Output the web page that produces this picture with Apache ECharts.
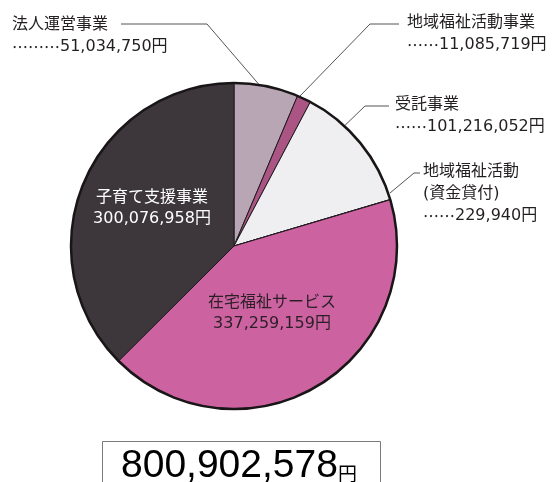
<!DOCTYPE html>
<html>
<head>
<meta charset="utf-8">
<script src="https://cdn.jsdelivr.net/npm/echarts@6/dist/echarts.min.js"></script>
<style>
  html, body { margin: 0; padding: 0; background: #fff; }
  #main { width: 554px; height: 482px; }
</style>
</head>
<body>
<div id="main"></div>
<script>
// 事業別の金額（円）
const categories = ['法人運営事業', '地域福祉活動事業', '受託事業', '地域福祉活動\n(資金貸付)', '在宅福祉サービス', '子育て支援事業'];
const amounts = [51034750, 11085719, 101216052, 229940, 337259159, 300076958];
const colors = ['#b8a6b5', '#aa5583', '#efeef0', '#c95d9b', '#cd62a0', '#3d373c'];

const total = amounts.reduce((a, b) => a + b, 0);
const fmt = v => v.toLocaleString('en-US');

// ラベルの置き場所と引き出し線
const spots = [
  { x: 12, y: 14, align: 'left', dots: '………', line: [[262, 88], [207, 24], [121, 24]] },
  { x: 407, y: 12, align: 'left', dots: '……', line: [[300, 96], [370, 24], [399, 24]] },
  { x: 395, y: 94, align: 'left', dots: '……', line: [[337, 133], [365, 106], [389, 106]] },
  { x: 423, y: 161, align: 'left', dots: '……', line: [[390, 193], [414, 173], [420, 173]] },
  { x: 272, y: 292, align: 'center', inside: true, color: '#2a1f27' },
  { x: 152, y: 187, align: 'center', inside: true, color: '#ffffff' }
];

const labelFont = '"DejaVu Sans", "Noto Sans CJK JP", sans-serif';

const data = categories.map((name, i) => {
  const s = spots[i];
  return {
    name: name,
    value: amounts[i],
    itemStyle: { color: colors[i] },
    label: s.inside
      ? { position: 'inside', color: s.color, lineHeight: 21 }
      : { position: 'outside' },
    labelLine: { show: !s.inside }
  };
});

const chart = echarts.init(document.getElementById('main'));
chart.setOption({
  animation: false,
  backgroundColor: '#fff',
  series: [
    {
      type: 'pie',
      center: [234, 246],
      radius: 163,
      startAngle: 90,
      clockwise: true,
      avoidLabelOverlap: false,
      emphasis: { disabled: true },
      itemStyle: { borderColor: '#1f1a1e', borderWidth: 1 },
      label: {
        fontFamily: labelFont,
        fontSize: 16,
        lineHeight: 22,
        color: '#231f20',
        formatter: p => {
          const s = spots[p.dataIndex];
          return s.inside
            ? p.name + '\n' + fmt(p.value) + '円'
            : p.name + '\n{d|' + s.dots + '}' + fmt(p.value) + '円';
        },
        rich: {
          d: { fontFamily: '"Noto Sans CJK JP", sans-serif', fontSize: 16, lineHeight: 22, color: '#231f20' }
        }
      },
      labelLine: { lineStyle: { color: '#555', width: 1 } },
      labelLayout: p => {
        const s = spots[p.dataIndex];
        const out = { x: s.x, y: s.y, align: s.align, verticalAlign: 'top' };
        if (s.line) out.labelLinePoints = s.line;
        return out;
      },
      data: data
    },
    {
      // 外周の太い縁
      type: 'pie',
      center: [234, 246],
      radius: 163,
      silent: true,
      label: { show: false },
      labelLine: { show: false },
      itemStyle: { color: 'rgba(0,0,0,0)', borderColor: '#1a1618', borderWidth: 2.5 },
      data: [{ value: total }]
    }
  ],
  graphic: [
    {
      type: 'rect',
      shape: { x: 102.5, y: 441.5, width: 278, height: 60 },
      style: { fill: 'none', stroke: '#7a7a7a', lineWidth: 1 }
    },
    {
      type: 'text',
      style: {
        x: 121,
        y: 486,
        text: '{n|' + fmt(total) + '}{y|円}',
        textVerticalAlign: 'bottom',
        rich: {
          n: { fontFamily: '"Liberation Sans", Arial, sans-serif', fontSize: 39, color: '#231f20', verticalAlign: 'bottom' },
          y: { fontFamily: '"Noto Sans CJK JP", sans-serif', fontSize: 19, color: '#231f20', verticalAlign: 'bottom', padding: [0, 0, 3, 0] }
        }
      }
    }
  ]
});
</script>
</body>
</html>
